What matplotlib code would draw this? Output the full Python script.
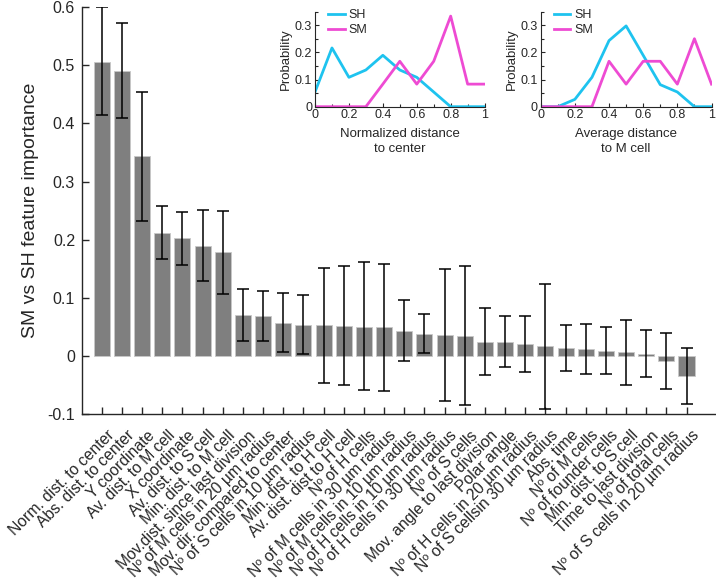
import matplotlib
matplotlib.use("Agg")
import matplotlib.pyplot as plt
import matplotlib.transforms as mtransforms
import numpy as np
from matplotlib.ticker import MultipleLocator

plt.rcParams['font.family'] = ['Liberation Sans', 'DejaVu Sans']

features = [
    "Norm. dist. to center", "Abs. dist. to center", "Y coordinate",
    "Av. dist. to M cell", "X coordinate", "Av. dist. to S cell",
    "Min. dist. to M cell", "Mov.dist. since last division",
    "Nº of M cells in 20 µm radius", "Mov. dir. compared to center",
    "Nº of S cells in 10 µm radius", "Min. dist. to H cell",
    "Av. dist. dist to H cell", "Nº of H cells",
    "Nº of M cells in 30 µm radius", "Nº of M cells in 10 µm radius",
    "Nº of H cells in 10 µm radius", "Nº of H cells in 30 µm radius",
    "Nº of S cells", "Mov. angle to last division", "Polar angle",
    "Nº of H cells in 20 µm radius", "Nº of S cellsin 30 µm radius",
    "Abs. time", "Nº of M cells", "Nº of founder cells",
    "Min. dist. to S cell", "Time to last division", "Nº of total cells",
    "Nº of S cells in 20 µm radius",
]
importance = [0.506, 0.491, 0.344, 0.212, 0.203, 0.190, 0.178, 0.071, 0.069,
              0.057, 0.053, 0.053, 0.052, 0.050, 0.049, 0.043, 0.038, 0.036,
              0.034, 0.024, 0.024, 0.021, 0.017, 0.013, 0.0115, 0.0086,
              0.0063, 0.003, -0.008, -0.034]
err_upper = [0.600, 0.573, 0.455, 0.258, 0.248, 0.251, 0.250, 0.116, 0.112,
             0.108, 0.104, 0.152, 0.155, 0.161, 0.159, 0.097, 0.072, 0.150,
             0.154, 0.082, 0.069, 0.069, 0.124, 0.053, 0.055, 0.050, 0.062,
             0.044, 0.039, 0.013]
err_lower = [0.414, 0.410, 0.233, 0.166, 0.157, 0.129, 0.107, 0.025, 0.025,
             0.006, 0.003, -0.046, -0.050, -0.058, -0.060, -0.009, 0.0045,
             -0.077, -0.084, -0.033, -0.019, -0.027, -0.091, -0.026, -0.031,
             -0.031, -0.050, -0.036, -0.057, -0.082]
main_yticks = [-0.1, 0, 0.1, 0.2, 0.3, 0.4, 0.5, 0.6]
main_yticklabels = ["-0.1", "0", "0.1", "0.2", "0.3", "0.4", "0.5", "0.6"]

dist_bins = [0, 0.1, 0.2, 0.3, 0.4, 0.5, 0.6, 0.7, 0.8, 0.9, 1.0]
center_SH = [0.054, 0.216, 0.108, 0.135, 0.189, 0.135, 0.108, 0.054, 0, 0, 0]
center_SM = [0, 0, 0, 0, 0.083, 0.167, 0.083, 0.167, 0.333, 0.083, 0.083]
mcell_SH = [0, 0, 0.027, 0.108, 0.243, 0.297, 0.189, 0.081, 0.054, 0, 0]
mcell_SM = [0, 0, 0, 0, 0.167, 0.083, 0.167, 0.167, 0.083, 0.25, 0.083]
inset_xticks = [0, 0.2, 0.4, 0.6, 0.8, 1]
inset_xticklabels = ["0", "0.2", "0.4", "0.6", "0.8", "1"]
inset_yticks = [0, 0.1, 0.2, 0.3]
inset_yticklabels = ["0", "0.1", "0.2", "0.3"]

TXT = '#262626'
SH_COL = '#1ec3ef'
SM_COL = '#ee4bd3'

fig = plt.figure(figsize=(7.16, 5.84), dpi=100)
W, H = 716, 584
ax = fig.add_axes([82 / W, 1 - 414 / H, (716 - 82) / W, (414 - 7.3) / H])

x = np.arange(1, len(features) + 1)
imp = np.array(importance)
yerr = np.vstack([imp - np.array(err_lower), np.array(err_upper) - imp])
ax.bar(x, imp, width=0.8, color='#7f7f7f', edgecolor='#c8c8c8', linewidth=0.6, zorder=2)
ax.errorbar(x, imp, yerr=yerr, fmt='none', ecolor='black', elinewidth=1.1,
            capsize=4, capthick=1.1, zorder=3)
ax.set_xlim(0.02, 31.46)
ax.set_ylim(-0.1, 0.6)
ax.set_yticks(main_yticks)
ax.set_yticklabels(main_yticklabels)
ax.set_xticks(x)
ax.set_xticklabels(features, rotation=45, ha='right', va='center',
                   rotation_mode='anchor', fontsize=11.3)
ax.tick_params(direction='in', length=5, width=1, colors=TXT)
ax.tick_params(axis='y', labelsize=11.5, pad=5)
ax.tick_params(axis='x', pad=0)
offset = mtransforms.ScaledTranslation(10 / 100, -19 / 100, fig.dpi_scale_trans)
for lab in ax.get_xticklabels():
    lab.set_transform(lab.get_transform() + offset)
for s in ['top', 'right']:
    ax.spines[s].set_visible(False)
for s in ['left', 'bottom']:
    ax.spines[s].set_color(TXT)
    ax.spines[s].set_linewidth(1)
ax.set_ylabel("SM vs SH feature importance", fontsize=14, color=TXT, labelpad=6)


def inset(left_px, right_px, sh, sm, xlabel):
    a = fig.add_axes([left_px / W, 1 - 106.7 / H, (right_px - left_px) / W, (106.7 - 11.5) / H])
    a.plot(dist_bins, sh, color=SH_COL, lw=2, label='SH')
    a.plot(dist_bins, sm, color=SM_COL, lw=2, label='SM')
    a.set_xlim(0, 1)
    a.set_ylim(0, 0.35)
    a.set_xticks(inset_xticks)
    a.set_xticklabels(inset_xticklabels)
    a.set_yticks(inset_yticks)
    a.set_yticklabels(inset_yticklabels)
    a.xaxis.set_minor_locator(MultipleLocator(0.1))
    a.yaxis.set_minor_locator(MultipleLocator(0.05))
    a.tick_params(which='both', direction='in', colors=TXT, labelsize=9, width=0.8)
    a.tick_params(which='major', length=3)
    a.tick_params(which='minor', length=2)
    a.tick_params(axis='x', pad=2)
    a.tick_params(axis='y', pad=2)
    for s in ['top', 'right']:
        a.spines[s].set_visible(False)
    for s in ['left', 'bottom']:
        a.spines[s].set_color(TXT)
        a.spines[s].set_linewidth(0.8)
    a.set_xlabel(xlabel, fontsize=9.5, color=TXT, labelpad=5, linespacing=1.25)
    a.set_ylabel("Probability", fontsize=9.5, color=TXT, labelpad=2)
    leg = a.legend(loc='upper left', bbox_to_anchor=(0.05, 1.08), frameon=False,
                   fontsize=9, handlelength=1.3, handletextpad=0.3,
                   labelspacing=0.25, borderaxespad=0)
    for t in leg.get_texts():
        t.set_color(TXT)
    return a


inset(315, 484.6, center_SH, center_SM, "Normalized distance\nto center")
inset(540.7, 711.5, mcell_SH, mcell_SM, "Average distance\nto M cell")

fig.savefig("out.png", dpi=100)
